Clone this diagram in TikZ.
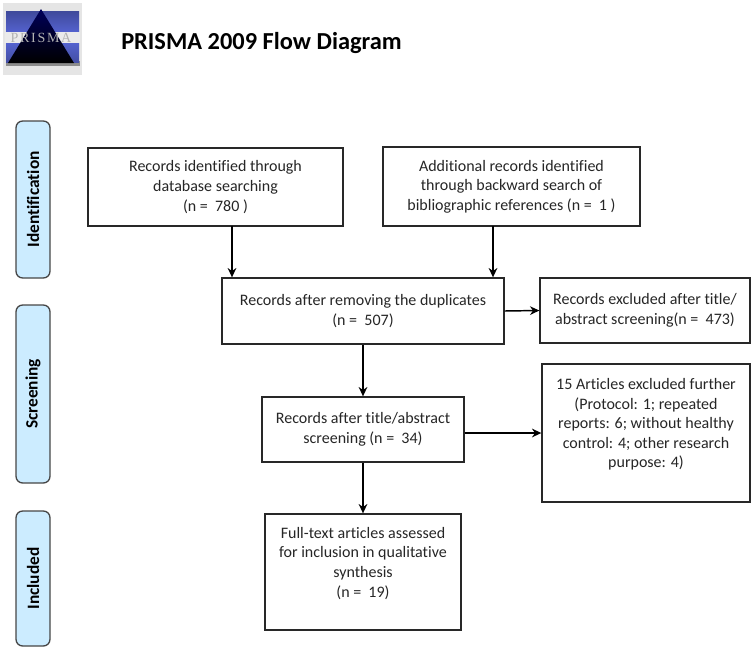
\documentclass[tikz,border=0pt]{standalone}
\usepackage{fontspec}
\setmainfont[Ligatures=NoCommon]{Carlito}
\newfontfamily\logofont[LetterSpace=12]{Liberation Serif}
\usetikzlibrary{arrows.meta}
\newlength{\du}
\setlength{\du}{0.75pt}
\definecolor{sidefill}{RGB}{204,236,255}
\definecolor{sideline}{RGB}{70,70,70}
\definecolor{boxline}{RGB}{40,40,40}
\definecolor{logoblue}{RGB}{84,98,206}
\tikzset{
  recbox/.style={draw=boxline,line width=1pt,fill=white,align=center,text=black!85,font=\fontsize{12}{14.7}\selectfont,inner sep=0pt},
  sidebox/.style={draw=sideline,line width=1pt,fill=sidefill,rounded corners=5pt,inner sep=0pt,minimum height=34\du},
  sidetext/.style={rotate=90,font=\fontsize{13}{15}\selectfont\bfseries},
  flow/.style={draw=black,line width=1.1pt,-{Stealth[length=7pt,width=6.5pt]}},
}
\begin{document}
\begin{tikzpicture}[x=\du,y=-\du]
\useasboundingbox (0,0) rectangle (754,650);
% logo
\fill[black!10] (3,3) rectangle (82,75);
\fill[black!45] (6,61) rectangle (80,66);
\shade[top color=logoblue!75!black,bottom color=logoblue] (6,11) rectangle (79,32);
\shade[top color=logoblue,bottom color=logoblue!80!black] (6,43) rectangle (79,62);
\fill[white!92!black] (5,32) rectangle (80,43);
\shade[top color=black!65!blue,bottom color=black] (41,9) -- (74,63) -- (8,63) -- cycle;
\node[text=black!30,font=\fontsize{10.5}{12}\selectfont\logofont] (logotext) at (41,38) {PRISMA};
% title
\node[anchor=west,inner sep=0pt,font=\fontsize{18.3}{22}\selectfont\bfseries] (title) at (121,43) {PRISMA 2009 Flow Diagram};
% side labels
\node[sidebox,minimum width=157\du,rotate=90] (identside) at (33,199.5) {};
\node[sidetext] (identtext) at (identside) {Identification};
\node[sidebox,minimum width=178\du,rotate=90] (screenside) at (33,394) {};
\node[sidetext] (screentext) at (screenside) {Screening};
\node[sidebox,minimum width=135\du,rotate=90] (inclside) at (33,578.5) {};
\node[sidetext] (incltext) at (inclside) {Included};
% boxes
\node[recbox,minimum width=255\du,minimum height=78\du] (dbrec) at (215.5,187) {Records identified through\\database searching\\(n =\ \ 780 )};
\node[recbox,minimum width=257\du,minimum height=79\du] (addrec) at (511.5,186.5) {Additional records identified\\through backward search of\\bibliographic references (n =\ \ 1 )};
\node[recbox,minimum width=282\du,minimum height=66\du] (duprec) at (363,311) {Records after removing the duplicates\\(n =\ \ 507)};
\node[recbox,minimum width=210\du,minimum height=65\du] (exclrec) at (645,310.5) {Records excluded after title/\\abstract screening(n =\ \ 473)};
\node[recbox,minimum width=202\du,minimum height=65\du] (scrrec) at (363,429.5) {Records after title/abstract\\screening (n =\ \ 34)};
\node[recbox,minimum width=208\du,minimum height=138\du] (furtherrec) at (646,433) {15 Articles excluded further\\(Protocol: 1; repeated\\reports: 6; without healthy\\control: 4; other research\\purpose: 4)\\\mbox{}};
\node[recbox,minimum width=196\du,minimum height=116\du] (fullrec) at (363,572) {Full-text articles assessed\\for inclusion in qualitative\\synthesis\\(n =\ \ 19)\\\mbox{}};
% connectors
\coordinate (dbdown) at (232,226);
\coordinate (adddown) at (493,226);
\draw[flow] (dbdown) -- (dbdown |- duprec.north);
\draw[flow] (adddown) -- (adddown |- duprec.north);
\draw[flow] (duprec.east) -- (exclrec.west);
\draw[flow] (duprec.south) -- (scrrec.north);
\draw[flow] (scrrec.east |- furtherrec.west) -- (furtherrec.west);
\draw[flow] (scrrec.south) -- (fullrec.north);
\end{tikzpicture}
\end{document}
